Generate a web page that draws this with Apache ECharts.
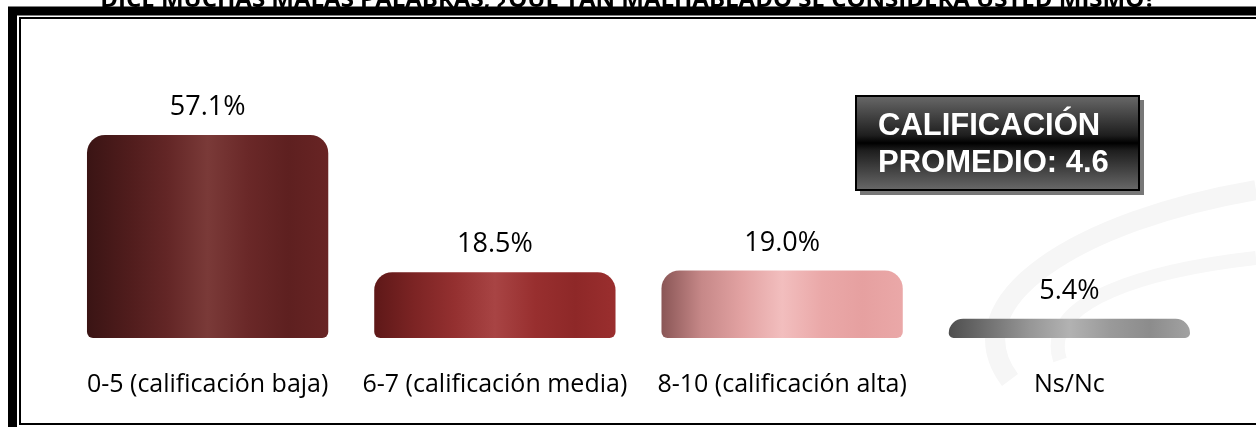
<!DOCTYPE html>
<html><head><meta charset="utf-8">
<script src="https://cdn.jsdelivr.net/npm/echarts@6/dist/echarts.min.js"></script>
<style>html,body{margin:0;padding:0;background:#fff}#c{width:1256px;height:427px}</style>
</head><body><div id="c"></div>
<script>
const categories = ['0-5 (calificación baja)', '6-7 (calificación media)', '8-10 (calificación alta)', 'Ns/Nc'];
const values = [57.1, 18.5, 19.0, 5.4];
const titleText = 'DICE MUCHAS MALAS PALABRAS, ¿QUÉ TAN MALHABLADO SE CONSIDERA USTED MISMO?';
const boxLines = ['CALIFICACIÓN', 'PROMEDIO: 4.6'];

function hgrad(stops){ return new echarts.graphic.LinearGradient(0,0,1,0, stops.map((c,i)=>({offset:i/(stops.length-1), color:c}))); }
const barColors = [
  hgrad(['#3a1414','#4f1c1c','#632626','#7a3a38','#6a2828','#5e2020','#682424']),
  hgrad(['#5e1818','#7c2424','#943030','#a84444','#982f2f','#8e2828','#9a2e2e']),
  hgrad(['#8a5656','#c68888','#e2a2a2','#f2bebe','#eaa8a8','#e6a0a0','#eaa8a8']),
  hgrad(['#4e4e4e','#727272','#969696','#b2b2b2','#9a9a9a','#8c8c8c','#a2a2a2'])
];

const chart = echarts.init(document.getElementById('c'));
chart.setOption({
  animation:false,
  grid:{left:64, right:43, top:89, bottom:89},
  xAxis:{type:'category', data:categories, axisLine:{show:false}, axisTick:{show:false},
    axisLabel:{color:'#000', fontSize:25, fontFamily:'Open Sans', margin:34, interval:0, hideOverlap:false}},
  yAxis:{type:'value', min:0, max:70, show:false, splitLine:{show:false}},
  series:[{type:'bar', barWidth:'84%',
    data: values.map((v,i)=>({value:v, itemStyle:{color:barColors[i], borderRadius:[18,18,6,6]}})),
    label:{show:true, position:'top', distance:14, formatter:p=>p.value.toFixed(1)+'%',
      color:'#000', fontSize:27, fontFamily:'Open Sans'}
  }],
  graphic:[
    {type:'bezierCurve', silent:true, z:-10, shape:{x1:1010,y1:380,cpx1:950,cpy1:300,cpx2:1080,cpy2:220,x2:1256,y2:190}, style:{fill:'none', stroke:'#f6f6f6', lineWidth:20}},
    {type:'bezierCurve', silent:true, z:-10, shape:{x1:1060,y1:360,cpx1:1040,cpy1:300,cpx2:1150,cpy2:270,x2:1256,y2:258}, style:{fill:'none', stroke:'#f7f7f7', lineWidth:14}},
    {type:'text', silent:true, z:1, x:628, y:12, style:{text:titleText, font:'bold 24px "Open Sans"', fill:'#000', align:'center', verticalAlign:'bottom'}},
    {type:'rect', silent:true, z:2, shape:{x:0, y:7, width:1256, height:13}, style:{fill:'#fff'}},
    {type:'rect', silent:true, z:3, shape:{x:12.5, y:11, width:1400, height:600}, style:{fill:'none', stroke:'#000', lineWidth:9}},
    {type:'rect', silent:true, z:3, shape:{x:20, y:18, width:1400, height:406}, style:{fill:'none', stroke:'#000', lineWidth:2}},
    {type:'rect', silent:true, shape:{x:860, y:100, width:284, height:95}, style:{fill:'#777'}},
    {type:'rect', silent:true, shape:{x:856, y:96, width:283, height:94},
      style:{fill:new echarts.graphic.LinearGradient(0,0,0,1,[{offset:0,color:'#6a6a6a'},{offset:0.42,color:'#1e1e1e'},{offset:0.5,color:'#000'},{offset:0.58,color:'#1e1e1e'},{offset:1,color:'#6a6a6a'}]), stroke:'#000', lineWidth:2}},
    {type:'text', silent:true, x:878, y:126, style:{text:boxLines[0], font:'bold 31px "Liberation Sans"', fill:'#fff', verticalAlign:'middle'}},
    {type:'text', silent:true, x:878, y:163, style:{text:boxLines[1], font:'bold 31px "Liberation Sans"', fill:'#fff', verticalAlign:'middle'}}
  ]
});
</script></body></html>
